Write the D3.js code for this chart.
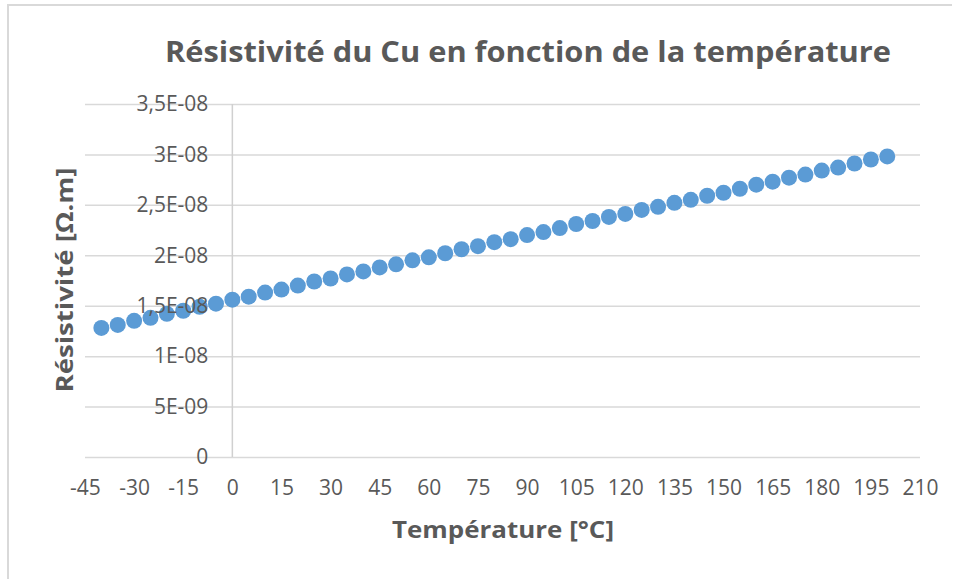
<!DOCTYPE html>
<html>
<head>
<meta charset="utf-8">
<script src="https://d3js.org/d3.v7.min.js"></script>
<style>
  body { margin: 0; background: #fff; }
  text { font-family: "Open Sans", sans-serif; fill: #595959; }
</style>
</head>
<body>
<div id="chart"></div>
<script>
// temperature (°C) and resistivity (Ω.m)
var temperatures = [-40, -35, -30, -25, -20, -15, -10, -5, 0, 5, 10, 15, 20, 25, 30, 35, 40, 45, 50,
    55, 60, 65, 70, 75, 80, 85, 90, 95, 100, 105, 110, 115, 120, 125, 130, 135, 140, 145, 150,
    155, 160, 165, 170, 175, 180, 185, 190, 195, 200];
var resistivity = [1.28e-8, 1.31e-8, 1.35e-8, 1.38e-8, 1.42e-8, 1.45e-8, 1.49e-8, 1.52e-8, 1.56e-8,
    1.59e-8, 1.63e-8, 1.66e-8, 1.70e-8, 1.74e-8, 1.77e-8, 1.81e-8, 1.84e-8, 1.88e-8, 1.91e-8,
    1.95e-8, 1.98e-8, 2.02e-8, 2.06e-8, 2.09e-8, 2.13e-8, 2.16e-8, 2.20e-8, 2.23e-8, 2.27e-8,
    2.31e-8, 2.34e-8, 2.38e-8, 2.41e-8, 2.45e-8, 2.48e-8, 2.52e-8, 2.55e-8, 2.59e-8, 2.62e-8,
    2.66e-8, 2.70e-8, 2.73e-8, 2.77e-8, 2.80e-8, 2.84e-8, 2.87e-8, 2.91e-8, 2.95e-8, 2.98e-8];
var xTicks = [-45, -30, -15, 0, 15, 30, 45, 60, 75, 90, 105, 120, 135, 150, 165, 180, 195, 210];
var yTicks = [0, 5e-9, 1e-8, 1.5e-8, 2e-8, 2.5e-8, 3e-8, 3.5e-8];
var yTickLabels = ["0", "5E-09", "1E-08", "1,5E-08", "2E-08", "2,5E-08", "3E-08", "3,5E-08"];

var chartTitle = "Résistivité du Cu en fonction de la température";
var xTitle = "Température [°C]";
var yTitle = "Résistivité [Ω.m]";

var W = 956, H = 579;
var margin = {top: 104, right: 36, bottom: 122, left: 85};
var width = W - margin.left - margin.right,
    height = H - margin.top - margin.bottom;

var svg = d3.select("#chart").append("svg")
    .attr("width", W)
    .attr("height", H);

// frame: only the top and left edges show in the picture
svg.append("path")
    .attr("d", "M8,579V5H952")
    .attr("fill", "none")
    .attr("stroke", "#d9d9d9")
    .attr("stroke-width", 2);

var g = svg.append("g")
    .attr("transform", "translate(" + margin.left + "," + margin.top + ")");

var xScale = d3.scaleLinear().domain([-45, 210]).range([0, width]);
var yScale = d3.scaleLinear().domain([0, 3.5e-8]).range([height, 0]);

// horizontal gridlines
g.append("g")
    .attr("class", "grid")
    .call(d3.axisLeft(yScale).tickValues(yTicks).tickSize(-width).tickFormat(""))
    .call(function(s) {
        s.select(".domain").remove();
        s.selectAll("line").attr("stroke", "#d9d9d9").attr("stroke-width", 1.5);
    });

// vertical axis line at x = 0
g.append("line")
    .attr("x1", xScale(0)).attr("x2", xScale(0))
    .attr("y1", 0).attr("y2", height)
    .attr("stroke", "#d0d0d0")
    .attr("stroke-width", 1.5);

// points
g.selectAll(".dot")
    .data(temperatures.map(function(t, i) { return {t: t, r: resistivity[i]}; }))
    .enter().append("circle")
    .attr("class", "dot")
    .attr("cx", function(d) { return xScale(d.t); })
    .attr("cy", function(d) { return yScale(d.r); })
    .attr("r", 8)
    .attr("fill", "#5b9bd5");

// y tick labels, sitting next to the axis at x = 0
var yAxis = d3.axisLeft(yScale)
    .tickValues(yTicks)
    .tickSize(0)
    .tickPadding(0)
    .tickFormat(function(d, i) { return yTickLabels[i]; });
g.append("g")
    .attr("class", "axis axis--y")
    .attr("transform", "translate(" + (xScale(0) - 24) + ",0)")
    .call(yAxis)
    .call(function(s) {
        s.select(".domain").remove();
        s.attr("font-size", null).attr("font-family", null);
        s.selectAll("text")
            .style("font-size", "21px")
            .attr("fill", "#595959");
    });

// x tick labels (plain hyphen for negatives, as in the picture)
var xAxis = d3.axisBottom(xScale)
    .tickValues(xTicks)
    .tickSize(0)
    .tickPadding(0)
    .tickFormat(function(d) { return String(d); });
g.append("g")
    .attr("class", "axis axis--x")
    .attr("transform", "translate(0," + height + ")")
    .call(xAxis)
    .call(function(s) {
        s.select(".domain").remove();
        s.attr("font-size", null).attr("font-family", null);
        s.selectAll("text")
            .attr("y", 38)
            .attr("dy", null)
            .style("font-size", "21px")
            .attr("fill", "#595959");
    });

// titles
var t = svg.append("text")
    .attr("x", 528).attr("y", 62)
    .attr("text-anchor", "middle")
    .style("font-size", "29px")
    .style("font-weight", "bold")
    .text(chartTitle);
fitWidth(t, 726);

var xt = svg.append("text")
    .attr("x", 503).attr("y", 538)
    .attr("text-anchor", "middle")
    .style("font-size", "23px")
    .style("font-weight", "bold")
    .text(xTitle);
fitWidth(xt, 222);

var yt = svg.append("text")
    .attr("transform", "translate(73,280) rotate(-90)")
    .attr("text-anchor", "middle")
    .style("font-size", "23px")
    .style("font-weight", "bold")
    .text(yTitle);
fitWidth(yt, 225);

// squeeze a label to the width it has in the picture
function fitWidth(sel, target) {
    var w = sel.node().getComputedTextLength();
    if (Math.abs(w - target) > 4) {
        sel.attr("textLength", target).attr("lengthAdjust", "spacingAndGlyphs");
    }
}
</script>
</body>
</html>
